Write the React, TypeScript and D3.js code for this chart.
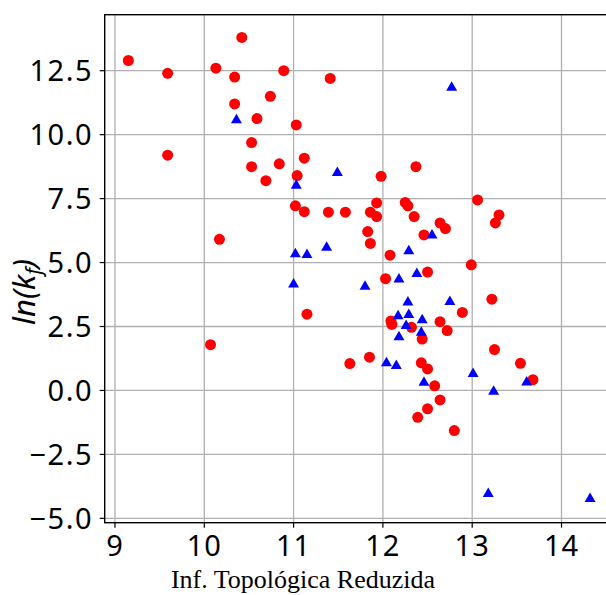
import React from "react";
import * as d3 from "d3";

const redX = [9.15, 9.59, 10.13, 10.42, 10.34, 10.89, 11.41, 10.74, 10.34, 10.59, 11.03, 10.53, 9.59, 11.12, 10.53, 10.84, 11.04, 10.69, 11.98, 12.37, 11.02, 11.12, 11.39, 11.58, 10.17, 11.15, 10.07, 13.06, 11.93, 12.25, 12.28, 11.86, 11.93, 12.35, 12.64, 12.7, 13.3, 13.26, 11.83, 11.86, 12.46, 12.08, 12.99, 12.5, 12.03, 13.22, 12.89, 12.09, 12.1, 12.32, 12.64, 12.72, 12.44, 13.25, 11.85, 11.63, 12.43, 12.5, 12.58, 12.64, 12.5, 12.39, 12.8, 13.54, 13.68];
const redY = [12.9, 12.4, 12.6, 13.8, 12.25, 12.5, 12.2, 11.5, 11.2, 10.63, 10.38, 9.69, 9.2, 9.08, 8.75, 8.86, 8.4, 8.2, 8.37, 8.75, 7.22, 6.99, 6.97, 6.97, 5.91, 2.98, 1.79, 7.45, 7.33, 7.35, 7.22, 6.97, 6.8, 6.8, 6.55, 6.33, 6.86, 6.55, 6.21, 5.75, 6.08, 5.29, 4.91, 4.63, 4.37, 3.57, 3.05, 2.72, 2.58, 2.47, 2.69, 2.34, 2.01, 1.6, 1.3, 1.05, 1.08, 0.84, 0.18, -0.37, -0.72, -1.05, -1.57, 1.06, 0.42];

const blueX = [10.36, 11.03, 11.49, 12.77, 11.02, 11.15, 11.37, 11.0, 12.55, 12.29, 12.38, 12.18, 11.8, 12.28, 12.75, 12.29, 12.17, 12.44, 12.26, 12.43, 12.18, 12.04, 12.15, 12.46, 13.01, 13.24, 13.61, 13.18, 14.32];
const blueY = [10.6, 8.04, 8.54, 11.87, 5.36, 5.33, 5.62, 4.18, 6.1, 5.48, 4.59, 4.38, 4.09, 3.48, 3.5, 2.99, 2.94, 2.78, 2.56, 2.29, 2.12, 1.1, 0.99, 0.34, 0.68, -0.01, 0.35, -4.01, -4.21];

const xTicks = [9, 10, 11, 12, 13, 14];
const yTicks = [-5, -2.5, 0, 2.5, 5, 7.5, 10, 12.5];

const W = 606;
const H = 595;

export default function App() {
  const x = d3.scaleLinear().domain([8.885, 14.58]).range([104.7, 613.3]);
  const y = d3.scaleLinear().domain([-5.17, 14.69]).range([522.7, 14.7]);
  const [x0, x1] = x.range();
  const [yb, yt] = y.range();
  const fmtY = (v: number) => (v < 0 ? "\u2212" : "") + Math.abs(v).toFixed(1);
  const tri = d3.symbol().type(d3.symbolTriangle).size(52);
  const red = redX.map((v, i) => [v, redY[i]]);
  const blue = blueX.map((v, i) => [v, blueY[i]]);
  return (
    <svg width={W} height={H} style={{ position: "absolute", left: 0, top: 0, background: "#fff" }}>
      <rect x={0} y={0} width={W} height={H} fill="#fff" />
      {xTicks.map((t) => (
        <line key={"gx" + t} x1={x(t)} x2={x(t)} y1={yb} y2={yt} stroke="#b0b0b0" strokeWidth={1.3} />
      ))}
      {yTicks.map((t) => (
        <line key={"gy" + t} x1={x0} x2={x1} y1={y(t)} y2={y(t)} stroke="#b0b0b0" strokeWidth={1.3} />
      ))}
      {red.map(([a, b], i) => (
        <circle key={"r" + i} cx={x(a)} cy={y(b)} r={5.5} fill="#ff0000" />
      ))}
      {blue.map(([a, b], i) => (
        <path key={"b" + i} d={tri() as string} transform={`translate(${x(a)},${y(b) + 0.8})`} fill="#0000ff" />
      ))}
      <rect x={x0} y={yt} width={x1 - x0} height={yb - yt} fill="none" stroke="#000" strokeWidth={1.4} />
      {xTicks.map((t) => (
        <g key={"tx" + t}>
          <line x1={x(t)} x2={x(t)} y1={yb} y2={yb + 5} stroke="#000" strokeWidth={1.2} />
          <text x={x(t)} y={555.5} textAnchor="middle" fontFamily="Noto Sans" fontSize={29} letterSpacing={1} fill="#000">{t}</text>
        </g>
      ))}
      {yTicks.map((t) => (
        <g key={"ty" + t}>
          <line x1={x0 - 5} x2={x0} y1={y(t)} y2={y(t)} stroke="#000" strokeWidth={1.2} />
          <text x={93} y={y(t)} dy="0.36em" textAnchor="end" fontFamily="Noto Sans" fontSize={29} letterSpacing={1.5} fill="#000">{fmtY(t)}</text>
        </g>
      ))}
      <text transform="translate(35,292) rotate(-90)" textAnchor="middle" fontFamily="Noto Sans" fontStyle="italic" fontSize={31} fill="#000">
        ln(k<tspan fontSize={21} dy={6}>f</tspan><tspan dy={-6}>)</tspan>
      </text>
      <text x={303} y={588} textAnchor="middle" fontFamily="Liberation Serif" fontSize={26} fill="#000">Inf. Topológica Reduzida</text>
    </svg>
  );
}
